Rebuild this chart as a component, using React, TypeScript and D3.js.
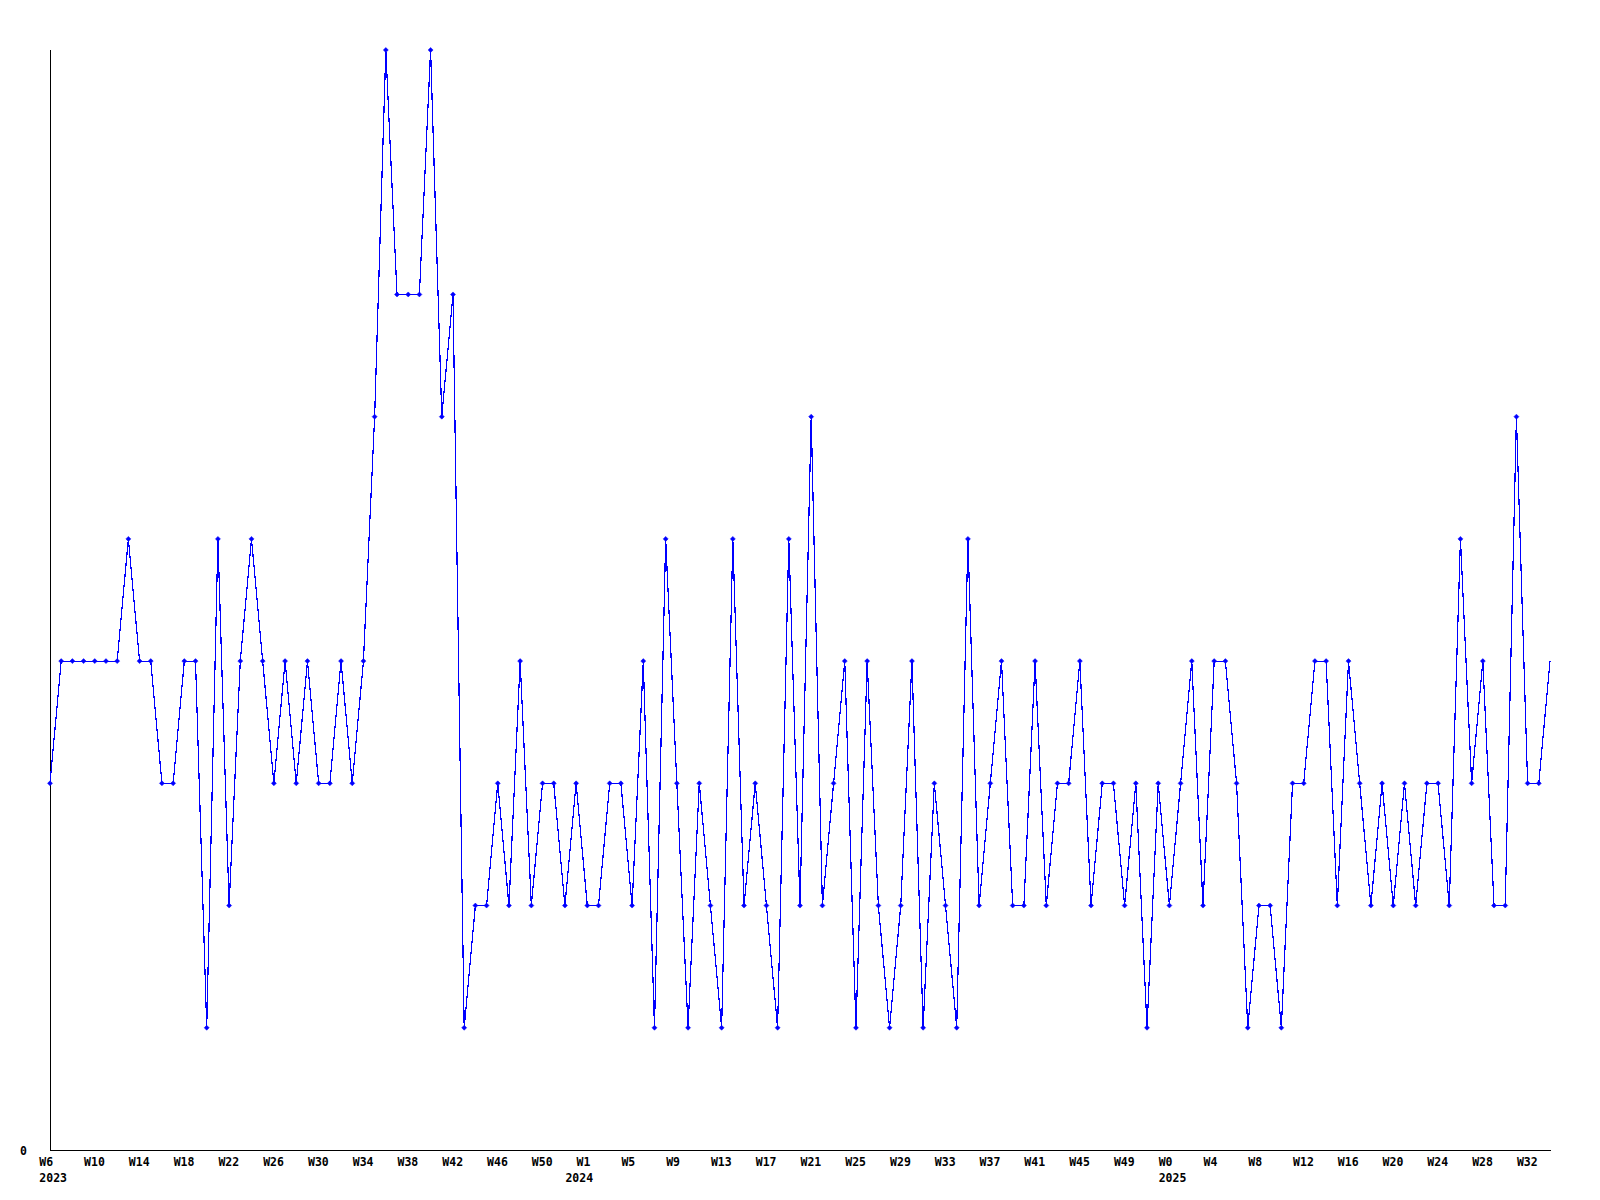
import React from "react";
import * as d3 from "d3";

// weekly values, one per point (first point is W6 2023)
const values: number[] = [
  3, 4, 4, 4, 4, 4, 4, 5, 4, 4,
  3, 3, 4, 4, 1, 5, 2, 4, 5, 4,
  3, 4, 3, 4, 3, 3, 4, 3, 4, 6,
  9, 7, 7, 7, 9, 6, 7, 1, 2, 2,
  3, 2, 4, 2, 3, 3, 2, 3, 2, 2,
  3, 3, 2, 4, 1, 5, 3, 1, 3, 2,
  1, 5, 2, 3, 2, 1, 5, 2, 6, 2,
  3, 4, 1, 4, 2, 1, 2, 4, 1, 3,
  2, 1, 5, 2, 3, 4, 2, 2, 4, 2,
  3, 3, 4, 2, 3, 3, 2, 3, 1, 3,
  2, 3, 4, 2, 4, 4, 3, 1, 2, 2,
  1, 3, 3, 4, 4, 2, 4, 3, 2, 3,
  2, 3, 2, 3, 3, 2, 5, 3, 4, 2,
  2, 6, 3, 3, 4,
];

// x tick labels every 4 weeks
const weekTickLabels: string[] = [
  "W6", "W10", "W14", "W18", "W22", "W26", "W30", "W34", "W38", "W42", "W46", "W50",
  "W1", "W5", "W9", "W13", "W17", "W21", "W25", "W29", "W33", "W37", "W41", "W45", "W49",
  "W0", "W4", "W8", "W12", "W16", "W20", "W24", "W28", "W32",
];
const weekTickIndex: number[] = weekTickLabels.map((_, k) => k * 4);

const yearLabels: string[] = ["2023", "2024", "2025"];
const yearIndex: number[] = [0, 47, 100];

const yMax = 9;

export default function App() {
  const W = 1600;
  const H = 1200;
  const left = 50;
  const right = 1550;
  const top = 50;
  const bottom = 1150;

  const x = d3.scaleLinear().domain([0, values.length - 1]).range([left, right]);
  const y = d3.scaleLinear().domain([0, yMax]).range([bottom, top]);

  const line = d3
    .line<number>()
    .x((_, i) => x(i))
    .y((d) => y(d));

  const font = "'DejaVu Sans Mono', monospace";
  const fs = 11.5;

  return (
    <svg
      width={W}
      height={H}
      style={{ position: "absolute", left: 0, top: 0, background: "#fff" }}
    >
      <rect x={0} y={0} width={W} height={H} fill="#fff" />
      {/* axes */}
      <line x1={left + 0.5} y1={top} x2={left + 0.5} y2={bottom + 0.5} stroke="#000" strokeWidth={1} shapeRendering="crispEdges" />
      <line x1={left} y1={bottom + 0.5} x2={right + 1} y2={bottom + 0.5} stroke="#000" strokeWidth={1} shapeRendering="crispEdges" />
      <text x={20} y={1154.5} fontFamily={font} fontWeight="bold" fontSize={fs} fill="#000">
        0
      </text>
      {/* data line */}
      <path
        d={line(values) || ""}
        fill="none"
        stroke="#0000ff"
        strokeWidth={1.2}
        shapeRendering="crispEdges"
      />
      {values.slice(0, -1).map((v, i) => {
        const cx = x(i);
        const cy = y(v);
        const r = 2.5;
        return (
          <path
            key={i}
            d={`M${cx - r},${cy} L${cx},${cy - r} L${cx + r},${cy} L${cx},${cy + r} Z`}
            fill="#0000ff"
            stroke="#0000ff"
            strokeWidth={0.5}
          />
        );
      })}
      {/* x labels */}
      {weekTickLabels.map((lab, k) => (
        <text
          key={lab + k}
          x={x(weekTickIndex[k]) - 10.7}
          y={1166}
          fontFamily={font}
          fontWeight="bold"
          fontSize={fs}
          fill="#000"
        >
          {lab}
        </text>
      ))}
      {yearLabels.map((lab, k) => (
        <text
          key={lab}
          x={x(yearIndex[k]) - 10.7}
          y={1181.5}
          fontFamily={font}
          fontWeight="bold"
          fontSize={fs}
          fill="#000"
        >
          {lab}
        </text>
      ))}
    </svg>
  );
}
